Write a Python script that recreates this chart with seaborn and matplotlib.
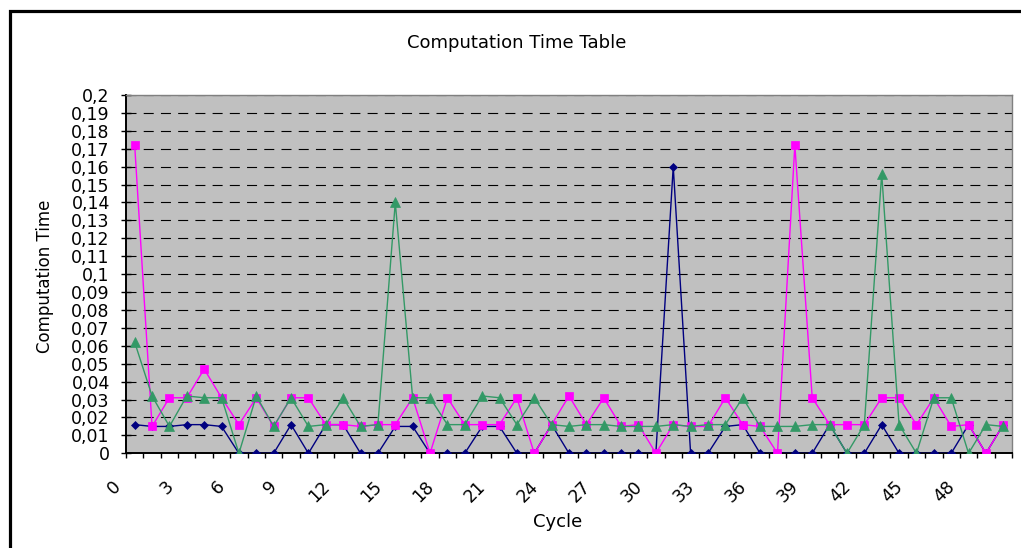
import numpy as np
import matplotlib
matplotlib.use("Agg")
import matplotlib.pyplot as plt
import matplotlib.transforms as mtransforms
from matplotlib.patches import Rectangle
from matplotlib.ticker import NullFormatter
import seaborn as sns

# Cycle numbers (categories) and the three timing series
cycles = list(range(51))

series_navy = [0.016, 0.015, 0.015, 0.016, 0.016, 0.015, 0, 0, 0, 0.016,
               0, 0.016, 0.016, 0, 0, 0.015, 0.015, 0, 0, 0,
               0.015, 0.015, 0, 0, 0.016, 0, 0, 0, 0, 0,
               0, 0.160, 0, 0, 0.015, 0.016, 0, 0, 0, 0,
               0.016, 0, 0, 0.016, 0, 0, 0, 0, 0.016, 0,
               0.016]

series_magenta = [0.172, 0.015, 0.031, 0.031, 0.047, 0.031, 0.016, 0.031, 0.015, 0.031,
                  0.031, 0.016, 0.016, 0.015, 0.016, 0.016, 0.031, 0, 0.031, 0.016,
                  0.016, 0.016, 0.031, 0, 0.016, 0.032, 0.016, 0.031, 0.015, 0.016,
                  0, 0.016, 0.015, 0.015, 0.031, 0.016, 0.015, 0, 0.172, 0.031,
                  0.016, 0.016, 0.016, 0.031, 0.031, 0.016, 0.031, 0.015, 0.016, 0,
                  0.016]

series_green = [0.062, 0.032, 0.015, 0.032, 0.031, 0.031, 0, 0.032, 0.015, 0.031,
                0.015, 0.016, 0.031, 0.015, 0.016, 0.140, 0.031, 0.031, 0.016, 0.016,
                0.032, 0.031, 0.016, 0.031, 0.016, 0.015, 0.016, 0.016, 0.015, 0.015,
                0.015, 0.016, 0.015, 0.016, 0.016, 0.031, 0.015, 0.015, 0.015, 0.016,
                0.016, 0, 0.016, 0.156, 0.016, 0, 0.031, 0.031, 0, 0.016,
                0.015]

y_ticks = [round(0.01 * k, 2) for k in range(21)]
y_tick_labels = [f"{v:g}".replace(".", ",") for v in y_ticks]
x_label_cycles = cycles[::3]
x_tick_labels = [str(c) for c in x_label_cycles]

sns.set_theme(style="white")
plt.rcParams["font.family"] = ["DejaVu Sans"]

W, H = 1021, 548
fig = plt.figure(figsize=(W / 100, H / 100), dpi=100)
fig.patch.set_facecolor("white")

ax = fig.add_axes([126 / W, 1 - 453.3 / H, 886 / W, (453.3 - 95) / H])
ax.set_facecolor("#C0C0C0")

line_kw = dict(linewidth=1.0)
sns.lineplot(x=cycles, y=series_navy, ax=ax, color="#000080", marker="D",
             markersize=4.4, markeredgecolor="#000080", markeredgewidth=0.5,
             zorder=3, **line_kw)
sns.lineplot(x=cycles, y=series_magenta, ax=ax, color="#FF00FF", marker="s",
             markersize=5.8, markeredgecolor="#FF00FF", markeredgewidth=0.5,
             zorder=4, **line_kw)
sns.lineplot(x=cycles, y=series_green, ax=ax, color="#339966", marker="^",
             markersize=6.8, markeredgecolor="#339966", markeredgewidth=0.5,
             zorder=5, **line_kw)

# Y axis: 0..0.2 with comma decimals and dashed black gridlines
ax.set_ylim(0, 0.2)
ax.set_yticks(y_ticks)
ax.set_yticklabels(y_tick_labels)
ax.yaxis.grid(True, color="black", linestyle=(0, (9, 6.5)), linewidth=0.8)
ax.xaxis.grid(False)
ax.set_axisbelow(True)
ax.tick_params(axis="y", which="major", left=True, direction="inout",
               length=6.5, width=1.0, color="black", pad=8.4,
               labelsize=12.5, labelcolor="black")

# X axis: tick marks on category boundaries, no tick-label machinery
ax.set_xlim(cycles[0] - 0.5, cycles[-1] + 0.5)
ax.set_xticks(np.arange(cycles[0] - 0.5, cycles[-1] + 1.0, 1.0))
ax.xaxis.set_major_formatter(NullFormatter())
ax.tick_params(axis="x", which="major", bottom=True, direction="out",
               length=3.8, width=1.0, color="black")

# Category labels every third cycle, rotated and set below the axis
label_trans = mtransforms.blended_transform_factory(ax.transData, ax.transAxes) \
    + mtransforms.ScaledTranslation(-10 / 100, -24 / 100, fig.dpi_scale_trans)
for c, txt in zip(x_label_cycles, x_tick_labels):
    ax.text(c, 0, txt, transform=label_trans, rotation=45, ha="right",
            va="top", fontsize=12.5, color="black", clip_on=False)

ax.set_xlabel("")
ax.set_ylabel("")

for side in ("left", "bottom"):
    ax.spines[side].set_color("black")
    ax.spines[side].set_linewidth(1.4)
for side in ("top", "right"):
    ax.spines[side].set_color("#808080")
    ax.spines[side].set_linewidth(1.0)

fig.text(517 / W, 1 - 43 / H, "Computation Time Table", ha="center",
         va="center", fontsize=13, color="black")
fig.text(45 / W, 1 - 276 / H, "Computation Time", rotation=90, ha="center",
         va="center", fontsize=12, color="black")
fig.text(558 / W, 1 - 522 / H, "Cycle", ha="center", va="center",
         fontsize=13, color="black")

# Chart-area frame
frame = Rectangle((9.5 / W, -0.2), 1.3, 1 - 10.5 / H + 0.2,
                  transform=fig.transFigure, fill=False, edgecolor="black",
                  linewidth=2.3, clip_on=False)
fig.add_artist(frame)

fig.savefig("out.png", dpi=100)
